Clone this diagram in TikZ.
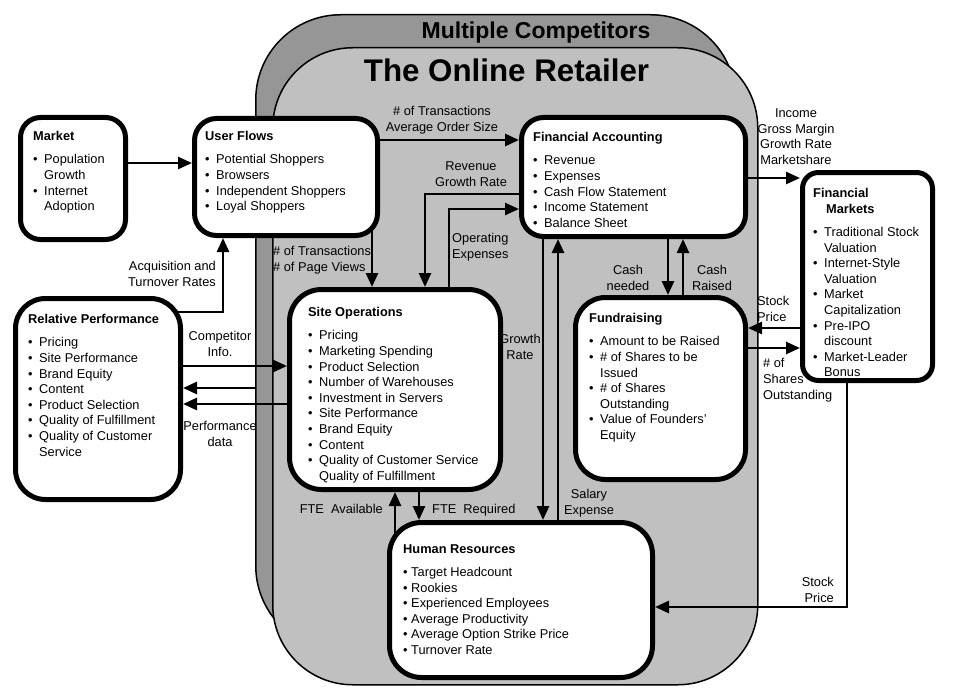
\documentclass[tikz,border=0pt]{standalone}
\usepackage{fontspec}
\setmainfont{Liberation Sans}
\usetikzlibrary{arrows.meta}
\definecolor{outergray}{RGB}{150,150,150}
\definecolor{innergray}{RGB}{192,192,192}
\newlength{\bhang}\setlength{\bhang}{11pt}
\newcommand{\bitem}[1]{\makebox[\bhang][l]{\textbullet}#1}
\newcommand{\citem}[1]{\hspace*{\bhang}#1}
\newcommand{\txtfont}{\fontsize{12.8}{15.6}\selectfont}
\pgfdeclarelayer{bg}
\pgfdeclarelayer{conn}
\pgfsetlayers{bg,conn,main}
\begin{document}
\begin{tikzpicture}[x=1pt,y=-1pt,
  box/.style={draw, line width=5pt, fill=white, inner sep=0pt, anchor=center},
  shell/.style={draw, line width=1.5pt, inner sep=0pt, anchor=north west},
  txt/.style={inner sep=0pt, font=\txtfont, align=left, anchor=north west},
  lab/.style={inner sep=0pt, font=\txtfont},
  arr/.style={line width=2.6pt, -{Triangle[length=14pt,width=12pt]}}]
\useasboundingbox (0,0) rectangle (958,698);

% background shells
\begin{pgfonlayer}{bg}
\node[shell, fill=outergray, rounded corners=85pt, minimum width=480pt, minimum height=636pt] (mc) at (255,14) {};
\node[shell, fill=innergray, rounded corners=80pt, minimum width=485pt, minimum height=637pt] (olr) at (272,47) {};
\end{pgfonlayer}

\node[inner sep=0pt, anchor=base, font=\fontsize{23}{27}\selectfont\bfseries] (mctitle) at (536,39) {Multiple Competitors};
\node[inner sep=0pt, anchor=base, font=\fontsize{31.3}{36}\selectfont\bfseries] (olrtitle) at (506.5,81.7) {The Online Retailer};

% boxes
\node[box, rounded corners=20pt, minimum width=105pt, minimum height=122pt] (market) at (73,178.5) {};
\node[box, rounded corners=22pt, minimum width=183pt, minimum height=117pt] (uf) at (286,177) {};
\node[box, rounded corners=22pt, minimum width=224pt, minimum height=119pt] (fa) at (633.5,177) {};
\node[box, rounded corners=16pt, minimum width=130pt, minimum height=208pt] (fm) at (867.5,276.5) {};
\node[box, rounded corners=30pt, minimum width=165pt, minimum height=201pt] (rp) at (98,399) {};
\node[box, rounded corners=32pt, minimum width=211pt, minimum height=200pt] (so) at (395,389.5) {};
\node[box, rounded corners=30pt, minimum width=170pt, minimum height=182pt] (fund) at (660.5,388.5) {};
\node[box, rounded corners=32pt, minimum width=263pt, minimum height=155pt] (hr) at (521,600) {};

% box contents
\node[txt] (market-t) at (33,131.4) {\textbf{Market}\\[7.5pt]
\bitem{Population}\\
\citem{Growth}\\
\bitem{Internet}\\
\citem{Adoption}};
\node[txt] (uf-t) at (205,131.4) {\textbf{User Flows}\\[7.5pt]
\bitem{Potential Shoppers}\\
\bitem{Browsers}\\
\bitem{Independent Shoppers}\\
\bitem{Loyal Shoppers}};
\node[txt] (fa-t) at (533,132.4) {\textbf{Financial Accounting}\\[7.5pt]
\bitem{Revenue}\\
\bitem{Expenses}\\
\bitem{Cash Flow Statement}\\
\bitem{Income Statement}\\
\bitem{Balance Sheet}};
\node[txt] (fm-t) at (813,188.4) {\textbf{Financial}\\
\hspace*{13pt}\textbf{Markets}\\[7.5pt]
\bitem{Traditional Stock}\\
\citem{Valuation}\\
\bitem{Internet-Style}\\
\citem{Valuation}\\
\bitem{Market}\\
\citem{Capitalization}\\
\bitem{Pre-IPO}\\
\citem{discount}\\
\bitem{Market-Leader}\\
\citem{Bonus}};
\node[txt] (rp-t) at (28,314.4) {\textbf{Relative Performance}\\[7.5pt]
\bitem{Pricing}\\
\bitem{Site Performance}\\
\bitem{Brand Equity}\\
\bitem{Content}\\
\bitem{Product Selection}\\
\bitem{Quality of Fulfillment}\\
\bitem{Quality of Customer}\\
\citem{Service}};
\node[txt] (so-t) at (308,307.4) {\textbf{Site Operations}\\[7.5pt]
\bitem{Pricing}\\
\bitem{Marketing Spending}\\
\bitem{Product Selection}\\
\bitem{Number of Warehouses}\\
\bitem{Investment in Servers}\\
\bitem{Site Performance}\\
\bitem{Brand Equity}\\
\bitem{Content}\\
\bitem{Quality of Customer Service}\\
\citem{Quality of Fulfillment}};
\node[txt] (fund-t) at (589,313.4) {\textbf{Fundraising}\\[7.5pt]
\bitem{Amount to be Raised}\\
\bitem{\# of Shares to be}\\
\citem{Issued}\\
\bitem{\# of Shares}\\
\citem{Outstanding}\\
\bitem{Value of Founders’}\\
\citem{Equity}};
\node[txt] (hr-t) at (403,544.4) {\textbf{Human Resources}\\[7.5pt]
\textbullet\ Target Headcount\\
\textbullet\ Rookies\\
\textbullet\ Experienced Employees\\
\textbullet\ Average Productivity\\
\textbullet\ Average Option Strike Price\\
\textbullet\ Turnover Rate};

% connectors and their labels
\begin{pgfonlayer}{conn}
\draw[arr] (market.center |- 0,163) -- (uf.west |- 0,163);
\draw[arr] (rp.center |- 0,312) -| (uf.south -| 223,0);
\draw[arr] (uf.center |- 0,140) -- (fa.west |- 0,140);
\draw[arr] (uf.center -| 372,0) -- (so.north -| 372,0);
\draw[arr] (fa.center |- 0,194) -| (so.north -| 425,0);
\draw[arr] (so.center -| 449,0) |- (fa.west |- 0,209);
\draw[arr] (fa.center |- 0,178) -- (fm.west |- 0,178);
\draw[arr] (fa.center -| 668,0) -- (fund.north -| 668,0);
\draw[arr] (fund.center -| 683,0) -- (fa.south -| 683,0);
\draw[arr] (fm.center |- 0,328) -- (fund.east |- 0,328);
\draw[arr] (fund.center |- 0,348) -- (fm.west |- 0,348);
\draw[arr] (fm.center -| 847,0) |- (hr.east |- 0,607);
\draw[arr] (rp.center |- 0,366) -- (so.west |- 0,366);
\draw[arr] (mc.west |- 0,388) -- (rp.east |- 0,388);
\draw[arr] (so.center |- 0,404) -- (rp.east |- 0,404);
\draw[arr] (hr.center -| 395,0) -- (so.south -| 395,0);
\draw[arr] (so.center -| 419,0) -- (hr.north -| 419,0);
\draw[arr] (fa.center -| 543,0) -- (hr.north -| 543,0);
\draw[arr] (hr.center -| 558,0) -- (fa.south -| 558,0);

\node[lab, align=right, anchor=north east] (l1) at (216,261.4) {Acquisition and\\Turnover Rates};
\node[lab, align=center, anchor=north] (l2) at (442,106.4) {\# of Transactions\\Average Order Size};
\node[lab, align=left, anchor=north west] (l3) at (273,246.4) {\# of Transactions\\\# of Page Views};
\node[lab, align=center, anchor=north] (l4) at (471,161.4) {Revenue\\Growth Rate};
\node[lab, align=left, anchor=north west] (l5) at (452,233.4) {Operating\\Expenses};
\node[lab, align=center, anchor=north] (l6) at (796,108.4) {Income\\Gross Margin\\Growth Rate\\Marketshare};
\node[lab, align=center, anchor=north] (l7) at (628,265.4) {Cash\\needed};
\node[lab, align=center, anchor=north] (l8) at (712,265.4) {Cash\\Raised};
\node[lab, align=left, anchor=north west] (l9) at (757,296.4) {Stock\\Price};
\node[lab, align=left, anchor=north west] (l10) at (763,358.4) {\# of\\Shares\\Outstanding};
\node[lab, align=right, anchor=north east] (l11) at (834,577.4) {Stock\\Price};
\node[lab, align=center, anchor=north] (l12) at (220,331.4) {Competitor\\Info.};
\node[lab, align=center, anchor=north] (l13) at (220,421.4) {Performance\\data};
\node[lab, anchor=north east] (l14) at (383,504.4) {FTE\ \ Available};
\node[lab, anchor=north west] (l15) at (432,504.4) {FTE\ \ Required};
\node[lab, align=center, anchor=north] (l16) at (520,334.4) {Growth\\Rate};
\node[lab, align=center, anchor=north] (l17) at (589,489.4) {Salary\\Expense};
\end{pgfonlayer}
\end{tikzpicture}
\end{document}
